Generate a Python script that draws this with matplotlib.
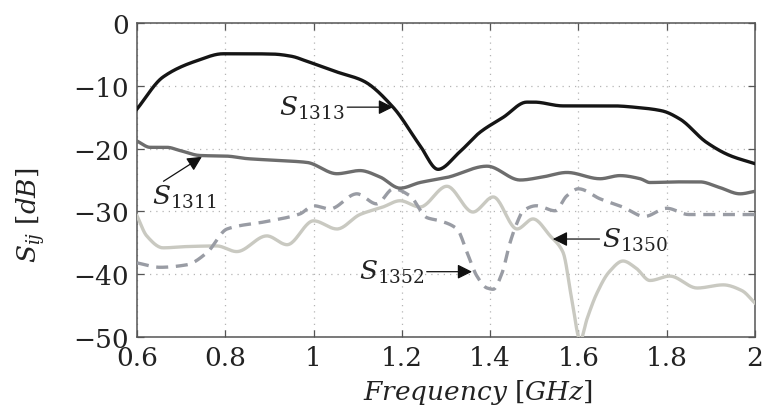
import numpy as np
import matplotlib
matplotlib.use("Agg")
import matplotlib.pyplot as plt

plt.rcParams['font.family'] = ['DejaVu Serif']
plt.rcParams['mathtext.fontset'] = 'dejavuserif'

# S-parameter traces (frequency in GHz, magnitude in dB)
f_1313 = [0.60, 0.659, 0.736, 0.795, 0.85, 0.908, 0.95, 0.985, 1.053, 1.112, 1.18, 1.241,
          1.282, 1.33, 1.377, 1.43, 1.483, 1.50, 1.565, 1.62, 1.678, 1.74, 1.79, 1.83,
          1.89, 1.943, 2.0]
s_1313 = [-13.7, -8.6, -6.0, -4.9, -4.9, -4.95, -5.3, -6.1, -7.8, -9.2, -13.4, -19.5,
          -23.3, -20.6, -17.4, -15.0, -12.6, -12.6, -13.2, -13.2, -13.2, -13.5, -14.0, -15.3,
          -19.0, -21.1, -22.4]

f_1311 = [0.60, 0.63, 0.668, 0.697, 0.743, 0.804, 0.85, 0.924, 0.985, 1.053, 1.105,
          1.15, 1.196, 1.241, 1.302, 1.393, 1.468, 1.52, 1.574, 1.649, 1.694, 1.74,
          1.762, 1.82, 1.875, 1.92, 1.966, 2.0]
s_1311 = [-18.8, -19.8, -19.8, -20.3, -21.1, -21.2, -21.6, -21.9, -22.2, -24.0, -23.5,
          -24.5, -26.3, -25.4, -24.6, -22.8, -25.0, -24.5, -23.8, -24.8, -24.3, -24.8,
          -25.4, -25.3, -25.3, -26.2, -27.2, -26.8]

f_1352 = [0.60, 0.652, 0.713, 0.758, 0.804, 0.894, 0.969, 1.0, 1.037, 1.098, 1.143,
          1.181, 1.218, 1.257, 1.286, 1.325, 1.348, 1.37, 1.393, 1.407, 1.427, 1.445,
          1.461, 1.475, 1.505, 1.547, 1.574, 1.60, 1.649, 1.70, 1.75, 1.80, 1.85, 1.90,
          2.0]
s_1352 = [-38.2, -38.9, -38.5, -36.6, -32.8, -31.6, -30.4, -29.1, -29.6, -27.2, -28.8,
          -26.4, -27.5, -31.0, -31.5, -32.8, -36.6, -40.3, -42.2, -42.4, -39.8, -35.0,
          -31.8, -29.9, -29.1, -29.9, -27.5, -26.4, -28.0, -29.3, -30.8, -29.5, -30.5, -30.5,
          -30.5]

f_1350 = [0.60, 0.622, 0.659, 0.713, 0.781, 0.826, 0.894, 0.94, 1.0, 1.053, 1.105,
          1.157, 1.196, 1.241, 1.302, 1.361, 1.407, 1.461, 1.497, 1.536, 1.565, 1.585,
          1.604, 1.62, 1.642, 1.67, 1.701, 1.73, 1.762, 1.807, 1.869, 1.928, 1.97, 2.0]
s_1350 = [-30.7, -33.9, -35.8, -35.6, -35.5, -36.4, -33.9, -35.3, -31.5, -32.8, -30.5,
          -29.3, -28.3, -29.3, -26.0, -30.1, -27.7, -32.8, -31.2, -33.9, -36.5, -44.0,
          -50.5, -47.0, -43.0, -39.6, -37.9, -39.0, -41.0, -40.3, -42.2, -41.7, -42.6, -44.6]

xticks = [0.6, 0.8, 1.0, 1.2, 1.4, 1.6, 1.8, 2.0]
xtick_labels = ['0.6', '0.8', '1', '1.2', '1.4', '1.6', '1.8', '2']
yticks = [0, -10, -20, -30, -40, -50]
ytick_labels = ['0', '\u221210', '\u221220', '\u221230', '\u221240', '\u221250']


def smooth(fx, sy, n=600):
    """Monotone cubic (PCHIP-style) resampling of a traced curve."""
    x = np.asarray(fx, float)
    y = np.asarray(sy, float)
    h = np.diff(x)
    d = np.diff(y) / h
    m = np.zeros_like(y)
    for k in range(1, len(x) - 1):
        if d[k - 1] * d[k] > 0:
            w1 = 2 * h[k] + h[k - 1]
            w2 = h[k] + 2 * h[k - 1]
            m[k] = (w1 + w2) / (w1 / d[k - 1] + w2 / d[k])
    m[0] = d[0]
    m[-1] = d[-1]
    xs = np.linspace(x[0], x[-1], n)
    idx = np.clip(np.searchsorted(x, xs) - 1, 0, len(x) - 2)
    t = (xs - x[idx]) / h[idx]
    h00 = 2 * t**3 - 3 * t**2 + 1
    h10 = t**3 - 2 * t**2 + t
    h01 = -2 * t**3 + 3 * t**2
    h11 = t**3 - t**2
    ys = h00 * y[idx] + h10 * h[idx] * m[idx] + h01 * y[idx + 1] + h11 * h[idx] * m[idx + 1]
    return xs, ys


fig = plt.figure(figsize=(7.62, 4.14), dpi=100)
ax = fig.add_axes([137 / 762, 1 - 338 / 414, 618 / 762, 314 / 414])

lw = 2.4
ax.plot(*smooth(f_1350, s_1350), color='#c9c9c1', lw=lw, zorder=3)
ax.plot(*smooth(f_1352, s_1352), color='#999ca4', lw=lw, ls=(0, (3.6, 2.3)), zorder=4)
ax.plot(*smooth(f_1311, s_1311), color='#6d6d6d', lw=lw, zorder=5)
ax.plot(*smooth(f_1313, s_1313), color='#151515', lw=lw, zorder=6)

ax.set_xlim(0.6, 2.0)
ax.set_ylim(-50, 0)
ax.set_xticks(xticks)
ax.set_xticklabels(xtick_labels)
ax.set_yticks(yticks)
ax.set_yticklabels(ytick_labels)

ax.grid(True, color='#b5b5b5', ls=(0, (1, 4)), lw=0.9)
ax.tick_params(direction='in', length=5, width=0.9, color='#555555',
               top=True, right=True, labelsize=19, labelcolor='#222222')
ax.tick_params(axis='x', pad=6)
ax.tick_params(axis='y', pad=6)
for lab in ax.get_yticklabels():
    lab.set_verticalalignment('center_baseline')
for sp in ax.spines.values():
    sp.set_color('#555555')
    sp.set_linewidth(1.1)

ax.set_xlabel(r'$Frequency\ [GHz]$', fontsize=19, color='#222222')
ax.xaxis.set_label_coords((478 - 137) / 618, -(378 - 338) / 314)
ax.set_ylabel(r'$S_{ij}\ [dB]$', fontsize=19, color='#222222')
ax.yaxis.set_label_coords(-(137 - 47) / 618, (338 - 215) / 314)

arrow = dict(arrowstyle='-|>', color='#111111', lw=0.9,
             mutation_scale=22, shrinkA=0, shrinkB=0)
txt = dict(fontsize=19, color='#222222')

ax.annotate(r'$S_{1313}$', xy=(1.18, -13.4), xytext=(1.07, -13.4),
            ha='right', va='center', arrowprops=arrow, **txt)
ax.annotate('', xy=(0.747, -21.3), xytext=(0.66, -25.2), arrowprops=arrow)
ax.text(0.634, -25.4, r'$S_{1311}$', ha='left', va='top', **txt)
ax.annotate(r'$S_{1352}$', xy=(1.359, -39.6), xytext=(1.25, -39.6),
            ha='right', va='center', arrowprops=arrow, **txt)
ax.annotate(r'$S_{1350}$', xy=(1.542, -34.4), xytext=(1.654, -34.4),
            ha='left', va='center', arrowprops=arrow, **txt)

fig.savefig('out.png', dpi=100)
